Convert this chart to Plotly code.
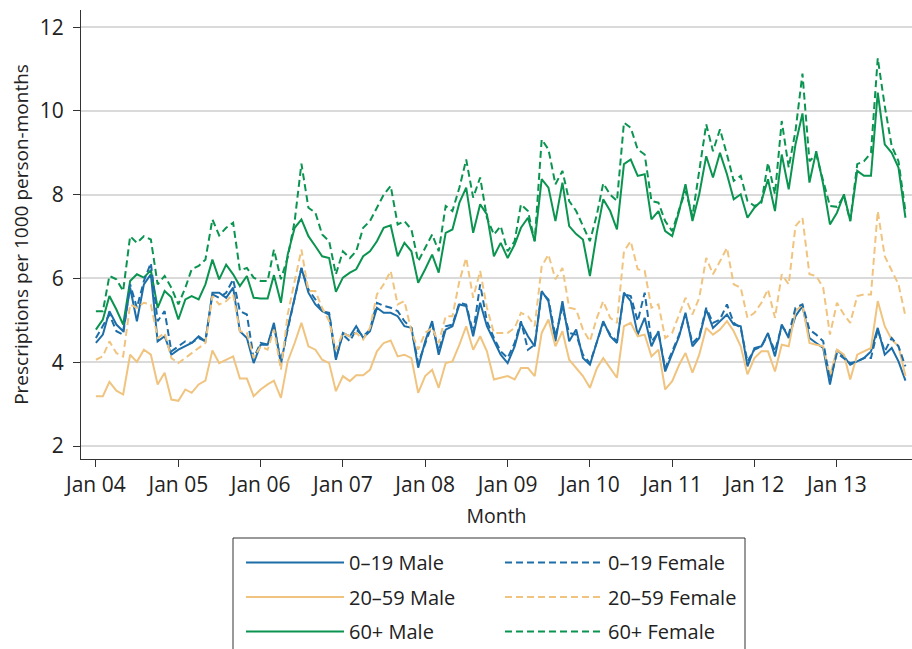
import pandas as pd
import plotly.graph_objects as go

months = pd.date_range("2004-01-01", periods=119, freq="MS")

male_0_19 = [4.46, 4.66, 5.22, 4.90, 4.74, 5.78, 4.98, 5.86, 6.10, 4.50, 4.62, 4.18, 4.30, 4.38, 4.46, 4.62, 4.50, 5.66, 5.66, 5.54, 5.78, 4.74, 4.58, 3.98, 4.42,
             4.42, 4.94, 3.95, 4.82, 5.54, 6.25, 5.66, 5.38, 5.22, 5.14, 4.06, 4.70, 4.62, 4.86, 4.58, 4.74, 5.30, 5.18, 5.18, 5.10, 4.86, 4.82, 3.87, 4.50,
             4.98, 4.18, 4.78, 4.86, 5.38, 5.34, 4.62, 5.42, 4.86, 4.50, 4.18, 3.98, 4.38, 4.94, 4.62, 4.38, 5.70, 5.46, 4.50, 5.46, 4.50, 4.78, 4.10, 3.94, 4.46, 4.98,
             4.62, 4.46, 5.66, 5.46, 4.66, 5.06, 4.38, 4.74, 3.78, 4.18, 4.62, 5.18, 4.38, 4.58, 5.26, 4.82, 4.98, 5.14, 4.90, 4.86, 3.90, 4.34,
             4.38, 4.70, 4.14, 4.90, 4.58, 5.10, 5.34, 4.58, 4.46, 4.34, 3.47, 4.30, 4.14, 3.94, 4.02, 4.10, 4.26, 4.82, 4.18, 4.34, 4.02, 3.56]

female_0_19 = [4.58, 4.86, 5.14, 4.74, 4.66, 5.86, 5.30, 5.94, 6.37, 4.98, 5.22, 4.26, 4.38, 4.50, 4.46, 4.58, 4.50, 5.62, 5.54, 5.66, 5.98, 5.22, 5.14, 4.10, 4.46,
               4.42, 4.86, 4.02, 4.78, 5.50, 6.25, 5.74, 5.50, 5.22, 5.18, 4.10, 4.66, 4.50, 4.78, 4.62, 4.78, 5.42, 5.35, 5.30, 5.22, 4.98, 4.82, 3.98, 4.42,
               4.90, 4.26, 4.86, 4.90, 5.42, 5.38, 4.70, 5.86, 4.98, 4.58, 4.26, 4.10, 4.46, 4.98, 4.30, 4.42, 5.66, 5.50, 4.62, 5.30, 4.70, 4.66, 4.18, 3.98, 4.50, 4.94,
               4.66, 4.50, 5.62, 5.58, 4.98, 5.66, 4.50, 4.70, 3.86, 4.26, 4.66, 5.14, 4.46, 4.62, 5.30, 4.94, 5.02, 5.38, 4.94, 4.82, 4.02, 4.30,
               4.38, 4.66, 4.26, 4.86, 4.66, 5.30, 5.38, 4.78, 4.66, 4.50, 3.55, 4.22, 4.10, 3.98, 4.02, 4.10, 4.10, 4.78, 4.26, 4.58, 4.38, 3.90]

male_20_59 = [3.19, 3.19, 3.53, 3.32, 3.23, 4.18, 4.01, 4.30, 4.18, 3.47, 3.75, 3.11, 3.08, 3.35, 3.27, 3.47, 3.56, 4.28, 3.98, 4.06, 4.14, 3.61, 3.61, 3.19, 3.35,
              3.47, 3.56, 3.15, 4.02, 4.46, 4.94, 4.38, 4.30, 4.06, 3.98, 3.31, 3.67, 3.55, 3.69, 3.69, 3.82, 4.26, 4.46, 4.52, 4.14, 4.18, 4.10, 3.27, 3.67,
              3.82, 3.39, 3.98, 4.02, 4.42, 4.86, 4.30, 4.62, 4.26, 3.59, 3.63, 3.67, 3.59, 3.86, 3.86, 3.67, 4.70, 5.02, 4.38, 4.74, 4.06, 3.86, 3.67, 3.39, 3.86, 4.10,
              3.86, 3.63, 4.86, 4.94, 4.62, 4.66, 4.14, 4.30, 3.35, 3.55, 3.94, 4.22, 3.75, 4.18, 4.82, 4.66, 4.78, 4.98, 4.74, 4.38, 3.71, 4.10,
              4.26, 4.26, 3.78, 4.42, 4.38, 5.22, 5.38, 4.46, 4.42, 4.38, 3.67, 4.30, 4.18, 3.59, 4.18, 4.26, 4.34, 5.46, 4.86, 4.54, 4.38, 3.67]

female_20_59 = [4.06, 4.14, 4.50, 4.22, 4.14, 5.38, 5.30, 5.42, 5.38, 4.58, 4.70, 4.10, 3.98, 4.10, 4.22, 4.34, 4.46, 5.58, 5.38, 5.46, 5.62, 4.74, 4.70, 4.10, 4.38,
                4.30, 4.78, 3.82, 5.14, 5.94, 6.69, 5.70, 5.70, 5.30, 4.98, 4.30, 4.70, 4.62, 4.70, 4.54, 4.82, 5.62, 5.86, 6.18, 5.38, 5.46, 4.74, 4.30, 4.70,
                4.82, 4.46, 5.10, 5.10, 5.94, 6.49, 5.54, 6.18, 5.30, 4.70, 4.70, 4.70, 4.82, 5.18, 5.10, 4.86, 6.29, 6.57, 5.98, 6.25, 5.30, 5.26, 4.78, 4.50, 5.06, 5.46,
                5.06, 4.94, 6.65, 6.89, 6.22, 6.18, 5.30, 5.38, 4.58, 4.70, 5.14, 5.54, 5.14, 5.54, 6.49, 6.10, 6.41, 6.73, 5.86, 5.78, 5.06, 5.18,
                5.42, 5.74, 5.06, 6.10, 5.86, 7.25, 7.45, 6.10, 6.06, 5.78, 4.66, 5.42, 5.14, 4.94, 5.58, 5.62, 5.62, 7.61, 6.53, 6.18, 5.86, 5.10]

male_60 = [4.78, 5.02, 5.58, 5.26, 4.90, 5.94, 6.10, 6.02, 6.20, 5.30, 5.70, 5.55, 5.02, 5.50, 5.58, 5.50, 5.86, 6.45, 5.98, 6.33, 6.10, 5.82, 6.06, 5.54, 5.52,
           5.52, 6.08, 5.42, 6.57, 7.21, 7.41, 7.01, 6.77, 6.53, 6.49, 5.68, 6.02, 6.14, 6.22, 6.53, 6.65, 6.89, 7.21, 7.27, 6.53, 6.85, 6.65, 5.90, 6.22,
           6.57, 6.14, 7.09, 7.17, 7.81, 8.17, 7.09, 7.77, 7.53, 6.53, 6.85, 6.49, 6.81, 7.21, 7.45, 6.89, 8.37, 8.17, 7.37, 8.29, 7.25, 7.06, 6.93, 6.06, 7.10, 7.89,
           7.61, 7.17, 8.73, 8.84, 8.45, 8.49, 7.41, 7.61, 7.13, 7.01, 7.61, 8.25, 7.37, 8.01, 8.92, 8.41, 9.00, 8.49, 7.89, 8.01, 7.45, 7.69,
           7.85, 8.37, 7.61, 8.96, 8.13, 9.20, 9.94, 8.29, 9.04, 8.25, 7.29, 7.57, 8.01, 7.37, 8.57, 8.45, 8.45, 10.44, 9.20, 9.00, 8.65, 7.45]

female_60 = [5.22, 5.22, 6.06, 5.98, 5.70, 7.01, 6.85, 7.01, 6.93, 5.86, 6.06, 5.78, 5.38, 5.78, 6.22, 6.30, 6.45, 7.41, 7.03, 7.21, 7.33, 6.19, 6.25, 6.02, 5.94,
             5.94, 6.69, 5.98, 6.50, 7.37, 8.74, 7.69, 7.57, 7.05, 6.89, 6.10, 6.65, 6.49, 6.65, 7.21, 7.37, 7.69, 8.00, 8.21, 7.29, 7.37, 7.17, 6.41, 6.73,
             7.05, 6.65, 7.73, 7.61, 8.17, 8.84, 7.93, 8.41, 7.45, 7.05, 7.25, 6.65, 6.89, 7.77, 7.61, 6.89, 9.32, 9.08, 8.25, 8.57, 7.85, 7.61, 7.25, 6.89, 7.53, 8.27,
             8.00, 7.85, 9.72, 9.60, 9.08, 8.96, 7.85, 7.81, 7.37, 7.13, 7.65, 8.09, 7.49, 8.57, 9.68, 9.04, 9.56, 8.96, 8.33, 8.45, 7.85, 7.73,
             7.81, 8.76, 8.01, 9.76, 8.65, 9.52, 10.89, 8.80, 8.96, 8.33, 7.73, 7.71, 7.97, 7.37, 8.73, 8.80, 9.00, 11.26, 10.12, 9.16, 8.80, 7.60]

y_ticks = [2, 4, 6, 8, 10, 12]

BLUE = "#1d6ea8"
ORANGE = "#f0c47f"
GREEN = "#0a9450"
FONT = "Open Sans"
TXT = "#222222"

series = [
    ("0–19 Male", male_0_19, BLUE, "solid", "legend"),
    ("20–59 Male", male_20_59, ORANGE, "solid", "legend"),
    ("60+ Male", male_60, GREEN, "solid", "legend"),
    ("0–19 Female", female_0_19, BLUE, "7px,4px", "legend2"),
    ("20–59 Female", female_20_59, ORANGE, "7px,4px", "legend2"),
    ("60+ Female", female_60, GREEN, "7px,4px", "legend2"),
]

fig = go.Figure()
for name, vals, col, dash, leg in series:
    fig.add_trace(go.Scatter(
        x=months, y=vals, mode="lines", name=name,
        line=dict(color=col, width=2, dash=dash),
        legend=leg, legendgroup=name,
    ))

W, H = 912, 649
ml, mr, mt, mb = 81, 0, 10, 190
pw, ph = W - ml - mr, H - mt - mb

def px_x(p):
    return (p - ml) / pw

def px_y(p):
    return (H - mb - p) / ph

legend_common = dict(
    orientation="v", xanchor="left", yanchor="top",
    font=dict(family=FONT, size=20, color=TXT),
    bgcolor="rgba(0,0,0,0)", borderwidth=0,
    itemwidth=98, traceorder="grouped", tracegroupgap=5.5,
)

fig.update_layout(
    width=W, height=H,
    margin=dict(l=ml, r=mr, t=mt, b=mb, autoexpand=False),
    paper_bgcolor="white", plot_bgcolor="white",
    font=dict(family=FONT, size=20, color=TXT),
    showlegend=True,
    legend=dict(x=px_x(241), y=px_y(543), **legend_common),
    legend2=dict(x=px_x(500), y=px_y(543), **legend_common),
    xaxis=dict(
        type="date", automargin=False,
        range=["2003-10-27", "2013-11-30"],
        tick0="2004-01-01", dtick="M12", tickformat="%b %y",
        showgrid=False, zeroline=False,
        showline=True, linecolor="#333333", linewidth=1,
        ticks="outside", ticklen=7, tickcolor="#333333",
        tickfont=dict(family=FONT, size=21, color=TXT),
        title=dict(text="Month", font=dict(family=FONT, size=19.5, color=TXT), standoff=12),
    ),
    yaxis=dict(
        range=[1.69, 12.41], automargin=False,
        tickvals=y_ticks,
        showgrid=True, gridcolor="#dadada", gridwidth=1.5,
        zeroline=False,
        showline=True, linecolor="#333333", linewidth=1,
        ticks="outside", ticklen=7, tickcolor="#333333",
        ticklabelstandoff=5,
        tickfont=dict(family=FONT, size=21, color=TXT),
        title=dict(text="Prescriptions per 1000 person-months", font=dict(family=FONT, size=19, color=TXT), standoff=6),
    ),
    shapes=[dict(
        type="rect", xref="paper", yref="paper",
        x0=px_x(233), x1=px_x(745), y0=px_y(538), y1=px_y(660),
        line=dict(color="#333333", width=1), fillcolor="rgba(0,0,0,0)", layer="above",
    )],
)

fig.write_html("out.html", config={"displayModeBar": False},
               post_script="document.body.style.margin='0';")
